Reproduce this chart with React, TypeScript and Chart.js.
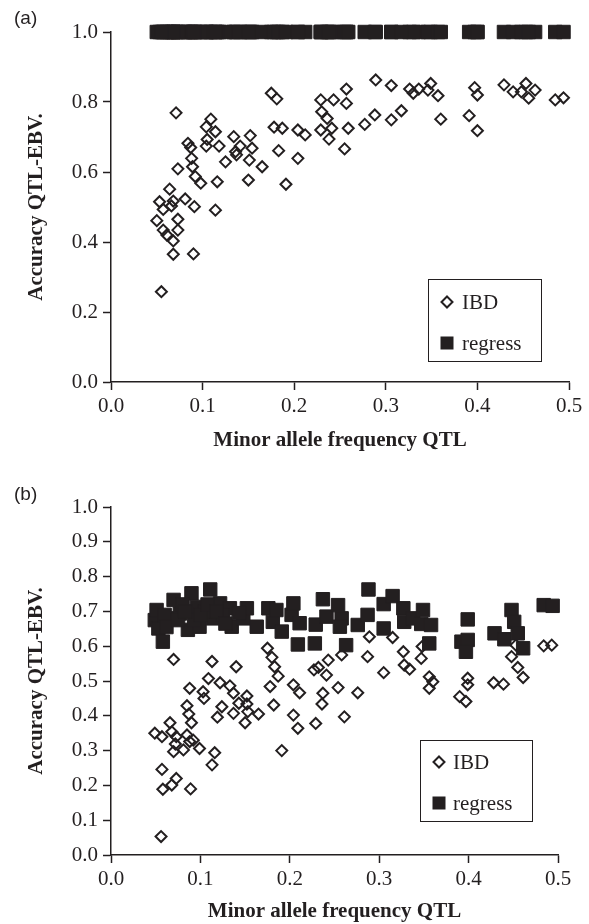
import React, { useEffect, useRef } from 'react';
import { Chart, registerables } from 'chart.js';

Chart.register(...registerables);

const INK = '#231f20';
const SERIF = '"Liberation Serif", "Times New Roman", serif';

// ---------- Panel (a) ----------
const FREQ_A = [0.175,0.181,0.071,0.109,0.104,0.114,0.105,0.084,0.087,0.104,0.118,0.134,0.152,0.141,0.136,0.137,0.154,0.125,0.151,0.165,0.088,0.073,0.089,0.092,0.098,0.116,0.150,0.064,0.053,0.057,0.068,0.081,0.066,0.091,0.114,0.050,0.073,0.057,0.073,0.061,0.068,0.068,0.090,0.055,0.178,0.187,0.183,0.191,0.204,0.212,0.204,0.229,0.243,0.230,0.236,0.229,0.241,0.238,0.255,0.257,0.257,0.259,0.289,0.306,0.326,0.336,0.349,0.346,0.357,0.330,0.397,0.400,0.429,0.439,0.453,0.448,0.463,0.456,0.485,0.494,0.277,0.288,0.306,0.317,0.360,0.391,0.400];
const IBD_A = [0.825,0.809,0.769,0.751,0.729,0.715,0.693,0.682,0.670,0.674,0.674,0.701,0.704,0.674,0.658,0.649,0.668,0.629,0.634,0.615,0.639,0.609,0.615,0.587,0.568,0.572,0.577,0.551,0.515,0.493,0.517,0.523,0.503,0.501,0.491,0.461,0.465,0.434,0.434,0.420,0.403,0.365,0.366,0.258,0.728,0.725,0.661,0.565,0.720,0.706,0.639,0.806,0.806,0.772,0.753,0.720,0.725,0.694,0.666,0.837,0.796,0.725,0.863,0.847,0.837,0.837,0.853,0.834,0.818,0.825,0.841,0.820,0.849,0.829,0.853,0.829,0.834,0.811,0.806,0.812,0.736,0.763,0.749,0.775,0.751,0.761,0.718];
const REGRESS_A = [1.0,1.0,1.0,1.0,1.0,1.0,1.0,1.0,1.0,1.0,1.0,1.0,1.0,1.0,1.0,1.0,1.0,1.0,1.0,1.0,1.0,1.0,1.0,1.0,1.0,1.0,1.0,1.0,1.0,1.0,1.0,1.0,1.0,1.0,1.0,1.0,1.0,1.0,1.0,1.0,1.0,1.0,1.0,1.0,1.0,1.0,1.0,1.0,1.0,1.0,1.0,1.0,1.0,1.0,1.0,1.0,1.0,1.0,1.0,1.0,1.0,1.0,1.0,1.0,1.0,1.0,1.0,1.0,1.0,1.0,1.0,1.0,1.0,1.0,1.0,1.0,1.0,1.0,1.0,1.0,1.0,1.0,1.0,1.0,1.0,1.0,1.0];

// ---------- Panel (b) ----------
const FREQ_B_IBD = [0.070,0.113,0.140,0.175,0.180,0.183,0.187,0.178,0.182,0.191,0.109,0.122,0.133,0.137,0.152,0.088,0.103,0.104,0.085,0.087,0.090,0.124,0.119,0.137,0.143,0.152,0.153,0.165,0.150,0.066,0.049,0.057,0.068,0.073,0.085,0.088,0.092,0.099,0.081,0.070,0.072,0.116,0.113,0.057,0.073,0.068,0.058,0.089,0.056,0.204,0.211,0.204,0.209,0.229,0.227,0.232,0.241,0.243,0.237,0.236,0.254,0.258,0.261,0.289,0.287,0.315,0.327,0.328,0.334,0.347,0.348,0.356,0.360,0.356,0.305,0.276,0.399,0.399,0.390,0.397,0.428,0.439,0.448,0.453,0.455,0.461,0.484,0.493];
const IBD_B = [0.562,0.556,0.541,0.594,0.568,0.541,0.514,0.484,0.431,0.300,0.507,0.495,0.486,0.465,0.457,0.479,0.469,0.450,0.429,0.405,0.380,0.426,0.396,0.407,0.436,0.434,0.412,0.405,0.380,0.380,0.350,0.340,0.354,0.340,0.345,0.326,0.330,0.306,0.302,0.297,0.319,0.294,0.259,0.246,0.220,0.201,0.189,0.190,0.053,0.489,0.466,0.402,0.364,0.378,0.532,0.539,0.517,0.560,0.465,0.434,0.481,0.575,0.397,0.627,0.570,0.625,0.584,0.546,0.534,0.565,0.599,0.512,0.498,0.479,0.524,0.466,0.508,0.489,0.455,0.441,0.495,0.491,0.570,0.603,0.539,0.510,0.601,0.603];
const FREQ_B_REG = [0.049,0.051,0.053,0.058,0.066,0.070,0.077,0.086,0.090,0.096,0.099,0.111,0.114,0.122,0.133,0.135,0.148,0.152,0.163,0.176,0.181,0.185,0.191,0.202,0.204,0.211,0.209,0.228,0.229,0.237,0.241,0.254,0.258,0.256,0.263,0.060,0.080,0.105,0.093,0.125,0.062,0.075,0.083,0.100,0.108,0.118,0.128,0.143,0.276,0.287,0.288,0.305,0.305,0.315,0.327,0.328,0.338,0.349,0.347,0.358,0.356,0.399,0.392,0.399,0.397,0.429,0.440,0.448,0.451,0.455,0.461,0.484,0.494];
const REGRESS_B = [0.675,0.704,0.651,0.613,0.680,0.733,0.694,0.647,0.752,0.713,0.656,0.763,0.680,0.723,0.709,0.656,0.680,0.709,0.656,0.709,0.670,0.704,0.642,0.690,0.723,0.666,0.605,0.608,0.662,0.735,0.685,0.718,0.680,0.656,0.603,0.690,0.720,0.700,0.675,0.690,0.655,0.675,0.700,0.690,0.720,0.700,0.665,0.695,0.661,0.690,0.763,0.651,0.721,0.744,0.709,0.670,0.680,0.704,0.664,0.661,0.608,0.677,0.613,0.618,0.584,0.637,0.620,0.704,0.670,0.637,0.594,0.718,0.716];

const X_TICKS_MAX = 0.5;
const X_TITLE = 'Minor allele frequency QTL';
const Y_TITLE = 'Accuracy QTL-EBV.';
const SERIES = ['IBD', 'regress'];

const toPoints = (xs: number[], ys: number[]) => xs.map((x, i) => ({ x, y: ys[i] }));

const boxLegend = {
  id: 'boxLegend',
  afterDraw(chart: any, _args: any, opts: any) {
    if (!opts || !opts.box) return;
    const ctx = chart.ctx;
    const b = opts.box;
    ctx.save();
    ctx.strokeStyle = INK;
    ctx.lineWidth = 1;
    ctx.strokeRect(b.x + 0.5, b.y + 0.5, b.w, b.h);
    ctx.font = `21px ${SERIF}`;
    ctx.fillStyle = INK;
    ctx.textBaseline = 'middle';
    ctx.textAlign = 'left';
    chart.data.datasets.forEach((ds: any, i: number) => {
      const y = opts.rows[i];
      const mx = opts.markerX;
      if (ds.pointStyle === 'rectRot') {
        const r = 5.5;
        ctx.beginPath();
        ctx.moveTo(mx, y - r);
        ctx.lineTo(mx + r, y);
        ctx.lineTo(mx, y + r);
        ctx.lineTo(mx - r, y);
        ctx.closePath();
        ctx.lineWidth = 2;
        ctx.strokeStyle = INK;
        ctx.stroke();
      } else {
        ctx.fillStyle = INK;
        ctx.fillRect(mx - 6.5, y - 6.5, 13, 13);
      }
      ctx.fillStyle = INK;
      ctx.fillText(ds.label, opts.textX, y + 1);
    });
    ctx.restore();
  },
};

function makeConfig(p: any) {
  return {
    type: 'scatter',
    data: {
      datasets: [
        {
          label: SERIES[0],
          data: toPoints(p.ibdX, p.ibdY),
          pointStyle: 'rectRot',
          pointRadius: 5.5,
          pointBorderWidth: 2,
          pointBorderColor: INK,
          pointBackgroundColor: 'rgba(255,255,255,0)',
          clip: false,
          order: 1,
        },
        {
          label: SERIES[1],
          data: toPoints(p.regX, p.regY),
          pointStyle: 'rect',
          pointRadius: 9.5,
          pointBorderWidth: 1,
          pointBorderColor: INK,
          pointBackgroundColor: INK,
          clip: false,
          order: 0,
        },
      ],
    },
    options: {
      responsive: false,
      animation: false,
      events: [],
      layout: { padding: { top: p.padTop, right: p.padRight, left: 0, bottom: 0 } },
      plugins: {
        legend: { display: false },
        tooltip: { enabled: false },
        boxLegend: p.legend,
      },
      scales: {
        x: {
          type: 'linear',
          min: 0,
          max: X_TICKS_MAX,
          afterFit: (s: any) => { s.height = p.xHeight; },
          ticks: {
            stepSize: 0.1,
            padding: 4,
            color: INK,
            font: { family: SERIF, size: 21 },
            callback: (v: any) => Number(v).toFixed(1),
          },
          grid: { display: true, drawOnChartArea: false, drawTicks: true, tickLength: 8, tickColor: INK, tickWidth: 1.5 },
          border: { display: true, color: INK, width: 1.5 },
          title: {
            display: true,
            text: X_TITLE,
            color: INK,
            font: { family: SERIF, size: 21, weight: 'bold' },
            padding: { top: 0, bottom: p.xTitlePad },
          },
        },
        y: {
          type: 'linear',
          min: 0,
          max: 1,
          afterFit: (s: any) => { s.width = 111; },
          ticks: {
            stepSize: p.yStep,
            padding: 5,
            color: INK,
            font: { family: SERIF, size: 21 },
            callback: (v: any) => Number(v).toFixed(1),
          },
          grid: { display: true, drawOnChartArea: false, drawTicks: true, tickLength: 8, tickColor: INK, tickWidth: 1.5 },
          border: { display: true, color: INK, width: 1.5 },
          title: {
            display: true,
            text: Y_TITLE,
            color: INK,
            font: { family: SERIF, size: 21, weight: 'bold' },
            padding: { top: 24, bottom: 0 },
          },
        },
      },
    },
    plugins: [boxLegend],
  };
}

function Panel(props: { cfg: any; top: number }) {
  const ref = useRef<HTMLCanvasElement | null>(null);
  useEffect(() => {
    if (!ref.current) return;
    const chart = new Chart(ref.current, makeConfig(props.cfg) as any);
    return () => chart.destroy();
  }, []);
  return (
    <canvas
      ref={ref}
      width={589}
      height={462}
      style={{ position: 'absolute', left: 0, top: props.top, width: 589, height: 462, display: 'block' }}
    />
  );
}

const labelStyle: React.CSSProperties = {
  position: 'absolute',
  left: 14,
  fontFamily: '"Liberation Sans", Arial, sans-serif',
  fontSize: 19,
  color: INK,
  lineHeight: 'normal',
};

export default function App() {
  const cfgA = {
    ibdX: FREQ_A, ibdY: IBD_A, regX: FREQ_A, regY: REGRESS_A,
    padTop: 32, padRight: 20, xHeight: 80, xTitlePad: 9, yStep: 0.2,
    legend: { box: { x: 428, y: 279, w: 113, h: 82 }, markerX: 447, textX: 462, rows: [302, 343] },
  };
  const cfgB = {
    ibdX: FREQ_B_IBD, ibdY: IBD_B, regX: FREQ_B_REG, regY: REGRESS_B,
    padTop: 45, padRight: 31, xHeight: 69, xTitlePad: 0, yStep: 0.1,
    legend: { box: { x: 420, y: 278, w: 112, h: 81 }, markerX: 439, textX: 453, rows: [300, 341] },
  };
  return (
    <div style={{ position: 'absolute', left: 0, top: 0, width: 589, height: 924, background: '#fff', overflow: 'hidden' }}>
      <Panel cfg={cfgA} top={0} />
      <Panel cfg={cfgB} top={462} />
      <div style={{ ...labelStyle, top: 7 }}>(a)</div>
      <div style={{ ...labelStyle, top: 483 }}>(b)</div>
    </div>
  );
}
